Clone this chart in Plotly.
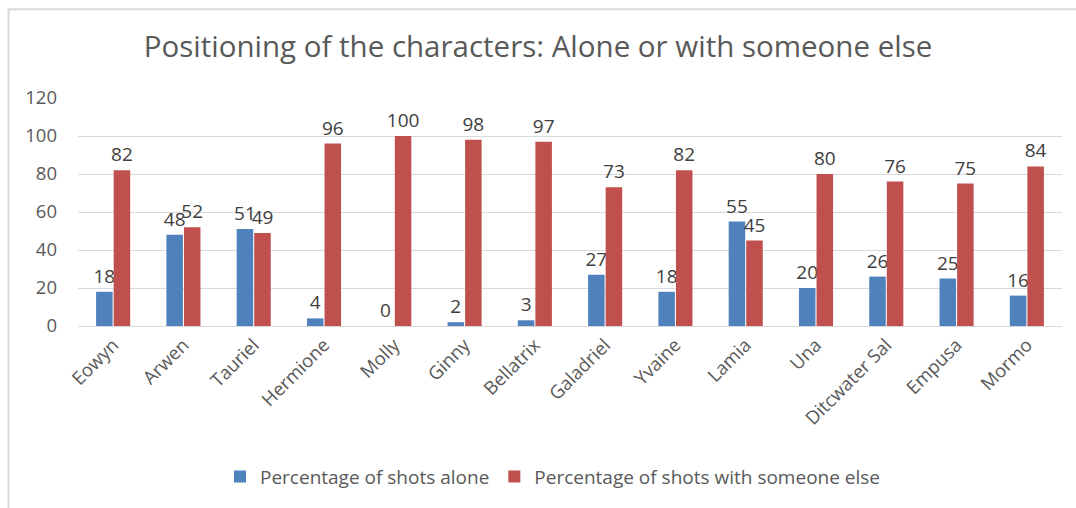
import plotly.graph_objects as go

categories = ["Eowyn", "Arwen", "Tauriel", "Hermione", "Molly", "Ginny", "Bellatrix",
              "Galadriel", "Yvaine", "Lamia", "Una", "Ditcwater Sal", "Empusa", "Mormo"]
alone = [18, 48, 51, 4, 0, 2, 3, 27, 18, 55, 20, 26, 25, 16]
with_someone = [82, 52, 49, 96, 100, 98, 97, 73, 82, 45, 80, 76, 75, 84]
y_ticks = [0, 20, 40, 60, 80, 100, 120]

W, H = 1076, 508
L, R, T, B = 78, 14, 98, 180
pw, ph = W - L - R, H - T - B

def px_x(x):
    return (x - L) / pw

def px_y(y):
    return (H - B - y) / ph

font = "'Open Sans', sans-serif"

fig = go.Figure()
fig.add_trace(go.Bar(x=categories, y=alone, name="Percentage of shots alone",
                     marker=dict(color="#4f81bd", line=dict(width=0)),
                     text=alone, textposition="outside", cliponaxis=False,
                     textfont=dict(size=19, color="#404040", family=font)))
fig.add_trace(go.Bar(x=categories, y=with_someone, name="Percentage of shots with someone else",
                     marker=dict(color="#c0504d", line=dict(width=0)),
                     text=with_someone, textposition="outside", cliponaxis=False,
                     textfont=dict(size=19, color="#404040", family=font)))

fig.update_layout(
    width=W, height=H, autosize=False,
    margin=dict(l=L, r=R, t=T, b=B, pad=0),
    paper_bgcolor="white", plot_bgcolor="white",
    barmode="group", bargap=0.5, bargroupgap=0.06,
    uniformtext=dict(minsize=19, mode="show"),
    title=dict(text="Positioning of the characters: Alone or with someone else",
               x=0.5, xanchor="center", y=1 - 47 / H, yanchor="middle",
               font=dict(size=29.5, color="#595959", family=font)),
    font=dict(family=font, color="#595959"),
    xaxis=dict(tickangle=-45, tickfont=dict(size=18.5, color="#595959"),
               showline=True, linecolor="#d9d9d9", linewidth=1, ticks="",
               showgrid=False),
    yaxis=dict(range=[0, 120], tickvals=y_ticks, tickfont=dict(size=18.5, color="#595959"),
               showgrid=True, gridcolor="#d9d9d9", gridwidth=1, zeroline=False,
               showline=False, ticks="", ticklabelstandoff=20),
    legend=dict(orientation="h", x=px_x(553), xanchor="center", y=px_y(480), yanchor="middle",
                font=dict(size=19, color="#595959"), itemwidth=30, tracegroupgap=0),
    shapes=[dict(type="rect", xref="paper", yref="paper",
                 x0=px_x(8.5), x1=px_x(1090), y0=px_y(520), y1=px_y(8.5),
                 line=dict(color="#d9d9d9", width=2), fillcolor="rgba(0,0,0,0)", layer="below")],
    showlegend=True,
)

fig.write_html("out.html")
